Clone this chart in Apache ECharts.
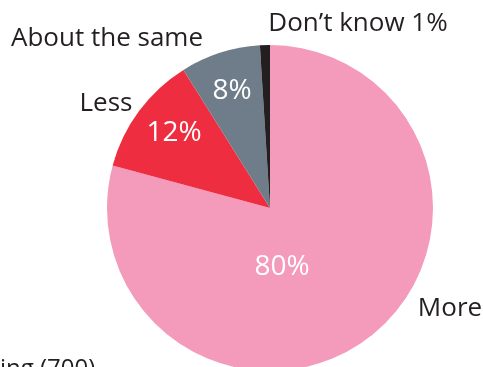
<!DOCTYPE html>
<html>
<head>
<meta charset="utf-8">
<script src="https://cdn.jsdelivr.net/npm/echarts@6/dist/echarts.min.js"></script>
<style>html,body{margin:0;padding:0;background:#fff;}#c{width:483px;height:367px;}</style>
</head>
<body>
<div id="c"></div>
<script>
var categories = ['More', 'Less', 'About the same', 'Don\u2019t know'];
var values = [80, 12, 8, 1];
var colors = ['#F49ABA', '#EE2E40', '#6F7C89', '#231F20'];
var footnote = 'ing (700)';

var FONT = '"Open Sans", "Noto Sans", sans-serif';
var innerPos = [[282, 267], [174, 133], [232, 91], null];
var outerPos = [[450, 309], [106, 104], [107, 39], [358, 24]];

var chart = echarts.init(document.getElementById('c'), null, {renderer: 'canvas'});
var data = categories.map(function (c, i) {
  return {name: c, value: values[i], itemStyle: {color: colors[i]}};
});
var dataOuter = categories.map(function (c, i) {
  return {name: c, value: values[i], itemStyle: {color: 'rgba(0,0,0,0)'}};
});
chart.setOption({
  animation: false,
  series: [{
    type: 'pie',
    center: [270, 208],
    radius: [0, 163],
    startAngle: 90,
    clockwise: true,
    silent: true,
    itemStyle: {borderWidth: 0},
    label: {
      show: true,
      position: 'inside',
      color: '#fff',
      fontFamily: FONT,
      fontSize: 28,
      overflow: 'none',
      formatter: function (p) { return p.dataIndex === 3 ? '' : p.value + '%'; }
    },
    labelLayout: function (p) {
      var pos = innerPos[p.dataIndex];
      if (!pos) return {};
      return {x: pos[0], y: pos[1], align: 'center', verticalAlign: 'middle'};
    },
    data: data
  }, {
    type: 'pie',
    center: [270, 208],
    radius: [0, 163],
    startAngle: 90,
    clockwise: true,
    silent: true,
    label: {
      show: true,
      position: 'outside',
      color: '#231F20',
      fontFamily: FONT,
      fontSize: 26,
      overflow: 'none',
      width: 300,
      formatter: function (p) { return p.dataIndex === 3 ? p.name + ' ' + p.value + '%' : p.name; }
    },
    labelLine: {show: false},
    labelLayout: function (p) {
      var pos = outerPos[p.dataIndex];
      return {x: pos[0], y: pos[1], align: 'center', verticalAlign: 'middle', hideOverlap: false};
    },
    data: dataOuter
  }],
  graphic: [{
    type: 'text',
    left: 0,
    top: 357,
    style: {text: footnote, font: '24px ' + FONT, fill: '#231F20'}
  }]
});
</script>
</body>
</html>
